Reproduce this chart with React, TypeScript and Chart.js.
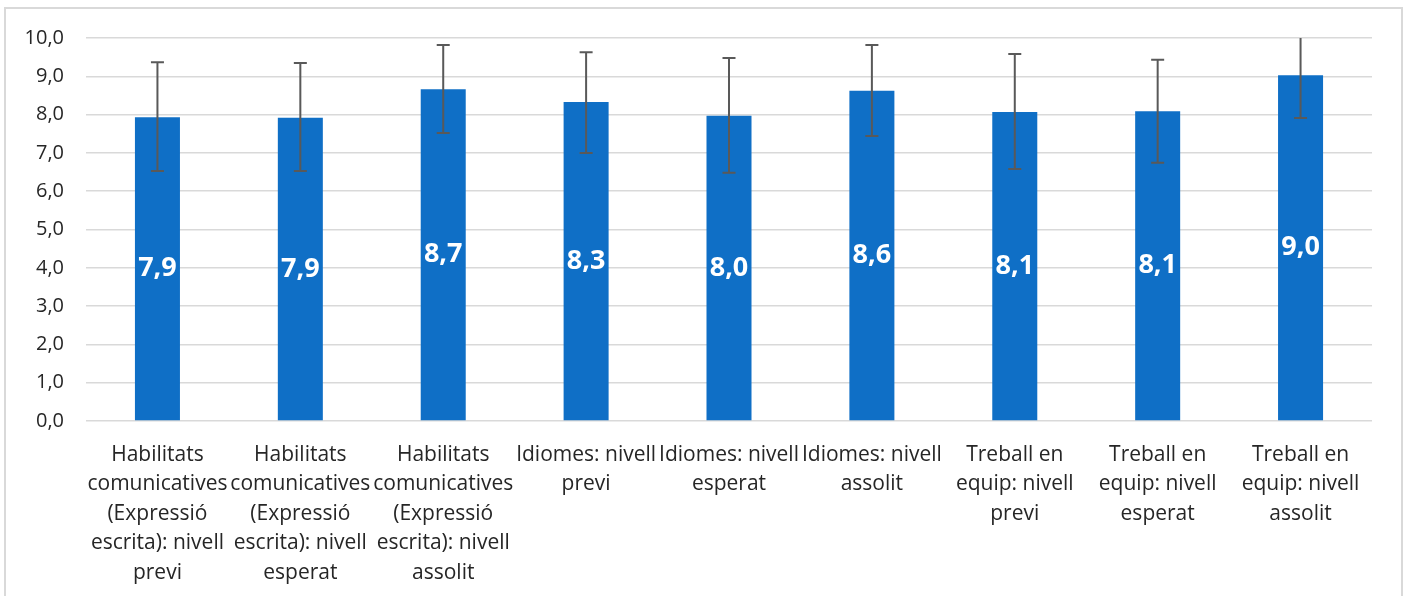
import React, { useEffect, useRef } from "react";
import { Chart, registerables } from "chart.js";

Chart.register(...registerables);

const categories: string[][] = [
  ["Habilitats", "comunicatives", "(Expressió", "escrita): nivell", "previ"],
  ["Habilitats", "comunicatives", "(Expressió", "escrita): nivell", "esperat"],
  ["Habilitats", "comunicatives", "(Expressió", "escrita): nivell", "assolit"],
  ["Idiomes: nivell", "previ"],
  ["Idiomes: nivell", "esperat"],
  ["Idiomes: nivell", "assolit"],
  ["Treball en", "equip: nivell", "previ"],
  ["Treball en", "equip: nivell", "esperat"],
  ["Treball en", "equip: nivell", "assolit"],
];

const values: number[] = [7.93, 7.92, 8.66, 8.33, 7.97, 8.62, 8.07, 8.09, 9.03];
const errorLow: number[] = [6.53, 6.53, 7.52, 7.0, 6.48, 7.44, 6.58, 6.74, 7.91];
const errorHigh: number[] = [9.37, 9.35, 9.82, 9.63, 9.48, 9.82, 9.58, 9.43, 10.15];

const yTicks: number[] = [0, 1, 2, 3, 4, 5, 6, 7, 8, 9, 10];

const fmt = (v: number) => v.toFixed(1).replace(".", ",");

const FONT = "'Open Sans', 'Noto Sans', sans-serif";

const labelPlugin = {
  id: "barLabels",
  afterDatasetsDraw(chart: any) {
    const ctx = chart.ctx;
    const meta = chart.getDatasetMeta(0);
    ctx.save();
    ctx.fillStyle = "#ffffff";
    ctx.font = `bold 27px ${FONT}`;
    ctx.textAlign = "center";
    ctx.textBaseline = "middle";
    meta.data.forEach((el: any, i: number) => {
      const y = (el.y + el.base) / 2;
      ctx.fillText(fmt(values[i]), el.x, y);
    });
    ctx.restore();
  },
};

const errorPlugin = {
  id: "errorBars",
  afterDatasetsDraw(chart: any) {
    const ctx = chart.ctx;
    const meta = chart.getDatasetMeta(0);
    const yScale = chart.scales.y;
    const area = chart.chartArea;
    ctx.save();
    ctx.beginPath();
    ctx.rect(area.left, area.top, area.right - area.left, area.bottom - area.top);
    ctx.clip();
    ctx.strokeStyle = "#595959";
    ctx.lineWidth = 2;
    const cap = 6.5;
    meta.data.forEach((el: any, i: number) => {
      const x = el.x;
      const yl = yScale.getPixelForValue(errorLow[i]);
      const yh = yScale.getPixelForValue(errorHigh[i]);
      ctx.beginPath();
      ctx.moveTo(x, yh);
      ctx.lineTo(x, yl);
      ctx.moveTo(x - cap, yh);
      ctx.lineTo(x + cap, yh);
      ctx.moveTo(x - cap, yl);
      ctx.lineTo(x + cap, yl);
      ctx.stroke();
    });
    ctx.restore();
  },
};

export default function App() {
  const ref = useRef<HTMLCanvasElement | null>(null);

  useEffect(() => {
    if (!ref.current) return;
    const chart = new Chart(ref.current, {
      type: "bar",
      data: {
        labels: categories as any,
        datasets: [
          {
            data: values,
            backgroundColor: "#0F6FC6",
            borderWidth: 0,
            barPercentage: 0.315,
            categoryPercentage: 1,
          },
        ],
      },
      options: {
        responsive: false,
        animation: false,
        layout: { padding: { top: 38, right: 35, left: 0, bottom: 0 } },
        plugins: {
          legend: { display: false },
          tooltip: { enabled: false },
        },
        scales: {
          x: {
            grid: { display: false },
            border: { display: false },
            ticks: {
              autoSkip: false,
              maxRotation: 0,
              minRotation: 0,
              padding: 11,
              color: "#262626",
              font: { family: FONT, size: 21, lineHeight: 1.405 },
            },
            afterFit(scale: any) {
              scale.height = 175;
            },
          },
          y: {
            min: 0,
            max: 10,
            border: { display: false },
            grid: { color: "#d9d9d9", lineWidth: 1.5, drawTicks: false },
            afterBuildTicks(scale: any) {
              scale.ticks = yTicks.map((v) => ({ value: v }));
            },
            ticks: {
              padding: 22,
              color: "#262626",
              font: { family: FONT, size: 20 },
              callback: (v: any) => fmt(Number(v)),
            },
            afterFit(scale: any) {
              scale.width = 86;
            },
          },
        },
      },
      plugins: [labelPlugin, errorPlugin],
    });
    return () => chart.destroy();
  }, []);

  return (
    <div style={{ position: "absolute", left: 0, top: 0, width: 1407, height: 596, overflow: "hidden", background: "#fff" }}>
      <div
        style={{
          position: "absolute",
          left: 4,
          top: 7,
          width: 1395,
          height: 600,
          border: "2px solid #d9d9d9",
        }}
      />
      <canvas ref={ref} width={1407} height={596} style={{ position: "absolute", left: 0, top: 0 }} />
    </div>
  );
}
